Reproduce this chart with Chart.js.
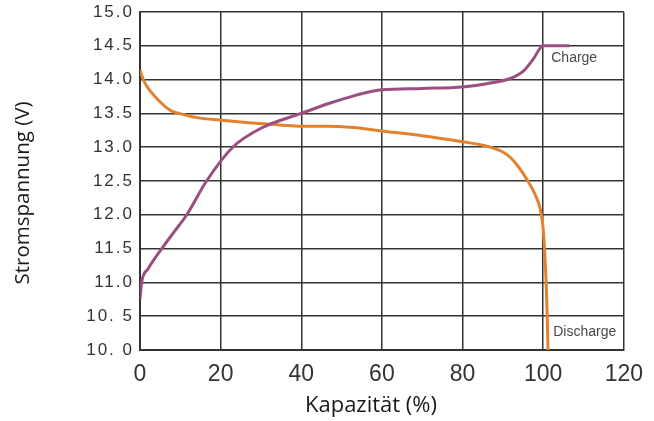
<!DOCTYPE html>
<html>
<head>
<meta charset="utf-8">
<script src="https://cdn.jsdelivr.net/npm/chart.js@4.4.0/dist/chart.umd.min.js"></script>
<style>
  body { margin: 0; background: #fff; }
  canvas { display: block; }
</style>
</head>
<body>
<canvas id="chart" width="654" height="421"></canvas>
<script>
// Kapazität (%) / Spannung (V)
const chargeX = [0, 0.4, 2, 5.4, 8.5, 11.6, 16.5, 23, 30, 40, 47, 53, 57, 60, 70, 80, 86, 92, 95, 97.5, 100, 106.5];
const chargeV = [10.75, 11.0, 11.2, 11.5, 11.75, 12.0, 12.5, 13.0, 13.28, 13.5, 13.65, 13.76, 13.82, 13.85, 13.87, 13.89, 13.94, 14.02, 14.12, 14.3, 14.5, 14.5];

const dischargeX = [0, 0.5, 1.5, 3.7, 7.4, 11, 14.8, 20, 27, 34.6, 40, 46, 53, 60, 70, 80, 85, 88, 90, 92, 94, 96, 98, 99.2, 100, 100.5, 100.8, 101, 101.2];
const dischargeV = [14.14, 14.05, 13.92, 13.75, 13.55, 13.48, 13.43, 13.4, 13.36, 13.33, 13.31, 13.31, 13.29, 13.24, 13.17, 13.08, 13.03, 12.98, 12.93, 12.84, 12.7, 12.52, 12.3, 12.1, 11.8, 11.3, 10.9, 10.5, 10.0];

const yTickValues = [10, 10.5, 11, 11.5, 12, 12.5, 13, 13.5, 14, 14.5, 15];
const yTickLabels = ['10. 0', '10. 5', '11.0', '11.5', '12.0', '12.5', '13.0', '13.5', '14.0', '14.5', '15.0'];
const xTickLabels = ['0', '20', '40', '60', '80', '100', '120'];

const curveLabels = [
    { text: 'Charge', x: 102, y: 14.32 },
    { text: 'Discharge', x: 102.5, y: 10.27 }
];

const toPoints = (xs, ys) => xs.map((x, i) => ({ x: x, y: ys[i] }));

// y tick labels (spaced out), curve labels and axis titles
const textPlugin = {
    id: 'texts',
    afterDraw(chart) {
        const ctx = chart.ctx;
        const xs = chart.scales.x;
        const ys = chart.scales.y;
        ctx.save();

        ctx.letterSpacing = '2px';
        ctx.fillStyle = '#333';
        ctx.font = '17px "Liberation Sans", Arial, sans-serif';
        ctx.textAlign = 'right';
        ctx.textBaseline = 'middle';
        yTickValues.forEach((v, i) => {
            ctx.fillText(yTickLabels[i], 134, ys.getPixelForValue(v));
        });
        ctx.letterSpacing = '0px';

        ctx.fillStyle = '#4a4a4a';
        ctx.font = '14px "Liberation Sans", Arial, sans-serif';
        ctx.textAlign = 'left';
        curveLabels.forEach(l => {
            ctx.fillText(l.text, xs.getPixelForValue(l.x), ys.getPixelForValue(l.y));
        });

        ctx.fillStyle = '#1a1a1a';
        ctx.textAlign = 'center';
        ctx.font = '22px "Open Sans", sans-serif';
        ctx.fillText('Kapazität (%)', 371, 406);
        ctx.font = '20.5px "Open Sans", sans-serif';
        ctx.translate(23, 193);
        ctx.rotate(-Math.PI / 2);
        ctx.fillText('Stromspannung (V)', 0, 0);
        ctx.restore();
    }
};

new Chart(document.getElementById('chart'), {
    type: 'line',
    data: {
        datasets: [
            {
                label: 'Charge',
                data: toPoints(chargeX, chargeV),
                borderColor: '#9b4f80',
                borderWidth: 3,
                pointRadius: 0,
                cubicInterpolationMode: 'monotone'
            },
            {
                label: 'Discharge',
                data: toPoints(dischargeX, dischargeV),
                borderColor: '#e2822e',
                borderWidth: 3,
                pointRadius: 0,
                cubicInterpolationMode: 'monotone'
            }
        ]
    },
    options: {
        responsive: false,
        animation: false,
        layout: { padding: { top: 12, right: 30, left: 0, bottom: 0 } },
        plugins: {
            legend: { display: false },
            tooltip: { enabled: false }
        },
        scales: {
            x: {
                type: 'linear',
                min: 0,
                max: 120,
                afterFit(scale) { scale.height = 71; },
                afterBuildTicks(scale) {
                    scale.ticks = xTickLabels.map(t => ({ value: Number(t) }));
                },
                ticks: {
                    padding: 11,
                    color: '#333',
                    font: { family: '"Liberation Sans", Arial, sans-serif', size: 23 },
                    callback: (v, i) => xTickLabels[i]
                },
                grid: { color: '#333', lineWidth: 1.5, drawTicks: false },
                border: { color: '#333', width: 2 }
            },
            y: {
                type: 'linear',
                min: 10,
                max: 15,
                afterFit(scale) { scale.width = 140; },
                afterBuildTicks(scale) {
                    scale.ticks = yTickValues.map(v => ({ value: v }));
                },
                ticks: { display: false },
                grid: { color: '#333', lineWidth: 1.5, drawTicks: false },
                border: { color: '#333', width: 2 }
            }
        }
    },
    plugins: [textPlugin]
});
</script>
</body>
</html>
